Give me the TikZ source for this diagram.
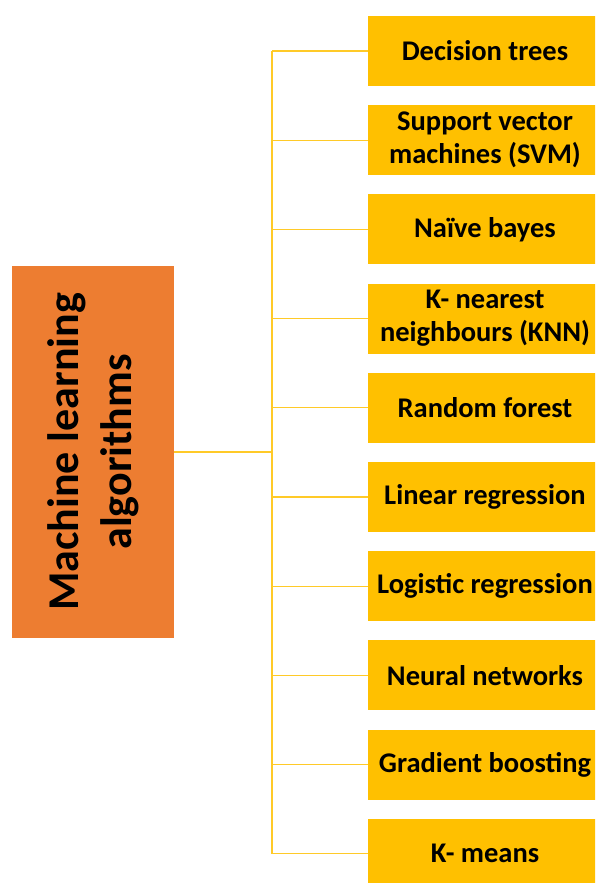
\documentclass[tikz,border=0pt]{standalone}
\usepackage{fontspec}
\setmainfont{Carlito}
\definecolor{mlorange}{HTML}{ED7D31}
\definecolor{mlgold}{HTML}{FFC000}
\definecolor{mlline}{HTML}{FFCA28}
\begin{document}
\begin{tikzpicture}[x=1pt,y=-1pt,
  algbox/.style={fill=mlgold, minimum width=234pt, minimum height=70pt, inner sep=0pt,
    align=center, font=\fontsize{28.5}{33}\selectfont\bfseries},
  rootbox/.style={fill=mlorange, minimum width=372pt, minimum height=162pt, inner sep=0pt,
    align=center, rotate=90, font=\fontsize{44}{53}\selectfont\bfseries},
  link/.style={draw=mlline, line width=1.3pt}]
\useasboundingbox (0,0) rectangle (595,883);
\begin{scope}
\clip (0,0) rectangle (595,883);
\node[rootbox] (root) at (93,452) {Machine learning\\algorithms};
\coordinate (trunk) at (272,452);
\foreach \name/\txt [count=\i from 0] in {
  dt/{Decision trees},
  svm/{Support vector\\machines (SVM)},
  nb/{Naïve bayes},
  knn/{K- nearest\\neighbours (KNN)},
  rf/{Random forest},
  lin/{Linear regression},
  log/{Logistic regression},
  nn/{Neural networks},
  gb/{Gradient boosting},
  km/{K- means}} {
  \node[algbox] (\name) at (485,{51+89.2*\i}) {\txt};
  \coordinate (j\name) at (272,{51+89.2*\i});
  \draw[link] (j\name) -- (\name.west);
}
\draw[link] (jdt) -- (jkm);
\draw[link, line width=2pt] (root.south) -- (trunk);
\end{scope}
\end{tikzpicture}
\end{document}
